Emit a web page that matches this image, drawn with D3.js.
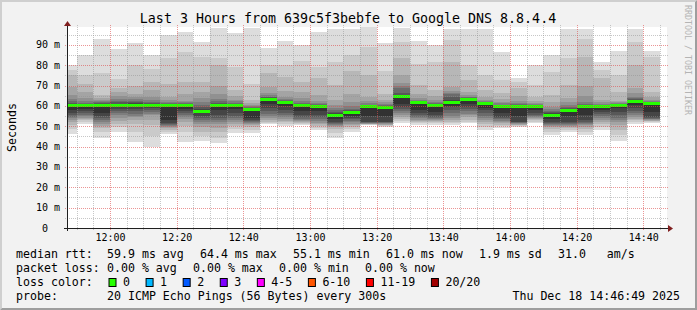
<!DOCTYPE html>
<html>
<head>
<meta charset="utf-8">
<script src="https://cdn.jsdelivr.net/npm/d3@7"></script>
<style>
  body { margin: 0; background: #f2f2f2; }
  svg text { font-family: "DejaVu Sans Mono", monospace; fill: #000; white-space: pre; }
</style>
</head>
<body>
<svg id="chart" width="697" height="310"></svg>
<script>
const TITLE = "Last 3 Hours from 639c5f3bebfe to Google DNS 8.8.4.4";

// start of each 5 minute step
const stepStarts = ["11:45", "11:50", "11:55", "12:00", "12:05", "12:10", "12:15", "12:20", "12:25",
  "12:30", "12:35", "12:40", "12:45", "12:50", "12:55", "13:00", "13:05", "13:10", "13:15",
  "13:20", "13:25", "13:30", "13:35", "13:40", "13:45", "13:50", "13:55", "14:00", "14:05",
  "14:10", "14:15", "14:20", "14:25", "14:30", "14:35", "14:40"];

// median rtt per step (ms)
const medians = [60, 60, 60, 60, 60, 60, 60, 60.3, 57.2, 60.3, 60.3, 58.2, 63.4, 61.8, 60.3, 59.8,
  55.1, 56.6, 59.5, 59.4, 64.4, 61.8, 60.1, 61.8, 63.4, 61.3, 59.8, 59.8, 59.8, 55.5, 57.7,
  59.8, 59.8, 60.3, 62.4, 61.0];

// 20 sorted ping times per step (ms)
const pings = [
  [46, 48.5, 50.6, 52, 53, 54, 54.8, 55.5, 56.5, 58, 60.5, 61, 61.5, 62.3, 63.5, 65.4, 69.5, 75.2, 77.7, 80],
  [51, 52.3, 53, 53.6, 54.3, 55, 55.7, 56.5, 57.5, 58.5, 60.4, 60.7, 61, 61.5, 62.5, 64, 67, 71, 75, 85],
  [44, 47, 49, 50, 51, 52, 53, 54, 55, 56.5, 60.4, 60.8, 61.2, 61.7, 62.3, 63, 64, 65.5, 76, 93],
  [47, 49.5, 51, 52.5, 54, 55.5, 56.5, 57.5, 58.5, 59.3, 60.5, 61, 61.7, 62.5, 63.5, 65, 67, 69, 73, 88],
  [42.5, 47, 51, 53, 54.5, 55.2, 56.2, 57.3, 58.5, 59.3, 60.6, 61.2, 61.8, 62.5, 63.3, 64.5, 66, 70, 80, 91],
  [40, 45, 50.6, 53, 55.5, 56, 57, 58, 59, 59.5, 60.5, 61, 61.4, 62, 62.9, 64.5, 67.8, 72, 78, 85],
  [46, 47, 48, 49, 49.5, 50, 50.5, 51, 51.5, 53, 60.3, 60.6, 61, 61.5, 62, 63, 64.5, 71, 83.5, 95],
  [42.5, 47, 50, 52, 53.5, 54.5, 55.5, 56.5, 57.5, 58.5, 60.5, 60.7, 61, 61.3, 61.8, 62.5, 66, 72, 86.7, 96.5],
  [43, 45, 47.3, 49.5, 51, 52.3, 53, 54, 55, 56.5, 57.8, 58.5, 59.5, 60.5, 62, 64, 67, 72, 84, 91.5],
  [42, 44, 47, 49, 51, 52.3, 53, 54, 55.5, 58, 60.7, 61.1, 61.6, 62.3, 63.5, 66, 70, 80, 83.5, 98.4],
  [46.5, 48.5, 50, 51, 52, 53, 54, 55, 56.5, 58.5, 60.5, 60.8, 61.1, 61.6, 62.2, 63, 65, 68, 79, 96],
  [46.5, 48, 49.5, 50.5, 51, 51.5, 52, 52.5, 53, 54, 58.5, 58.8, 59, 59.3, 59.8, 60.5, 61.5, 63, 71, 98.4],
  [51, 51.5, 52, 53, 54, 55, 56, 57.5, 59, 61, 63.6, 63.9, 64.2, 64.6, 65.3, 66.5, 69.5, 76, 80, 88.4],
  [50.3, 51.3, 52.3, 52.8, 53.5, 54.5, 55.5, 56.5, 58, 60, 62.1, 62.3, 62.5, 62.9, 63.5, 64.5, 67.5, 74, 80.3, 92],
  [50.5, 51.2, 51.8, 52.3, 52.7, 53.2, 53.8, 54.5, 55.5, 57.5, 60.6, 60.8, 61.1, 61.6, 62.5, 64, 67, 72, 82, 90],
  [48, 49.2, 50.3, 51, 51.8, 52.5, 53.5, 54.5, 55.5, 57.5, 60.1, 60.3, 60.6, 61, 61.5, 62.5, 65.5, 73.5, 79, 96.5],
  [44, 46.5, 48.5, 49.5, 50, 50.5, 51, 51.5, 52.3, 53.5, 55.6, 56.3, 57, 58, 59, 60.5, 63, 70.4, 81.7, 98],
  [47.4, 48.5, 49.5, 50.6, 51.3, 52, 52.8, 53.5, 54.2, 55, 56.9, 57.3, 57.8, 58.6, 60, 62, 66, 77, 85, 98],
  [50.5, 50.7, 50.9, 51.1, 51.3, 51.5, 51.7, 52, 52.3, 55, 59.8, 60, 60.3, 60.7, 61.3, 62.3, 64.5, 75, 89, 99],
  [49.8, 50.2, 50.5, 50.8, 51.1, 51.4, 51.7, 52, 52.3, 55, 59.7, 59.9, 60.1, 60.5, 61, 61.8, 63, 66, 77, 91],
  [51.5, 52.5, 53.5, 54.5, 55.5, 56.4, 57.5, 58.5, 59.7, 61, 64.9, 65.4, 66.5, 68.6, 70, 71.5, 75, 83.4, 91.6, 98.5],
  [50.6, 51.5, 52.3, 52.7, 53.3, 54, 54.8, 55.5, 56.4, 58, 61.9, 62, 62.2, 62.5, 63, 64, 66, 70.4, 80.5, 92],
  [50.5, 51.5, 52.3, 52.8, 53.2, 53.7, 54.2, 54.8, 55.5, 57, 60.3, 60.6, 61, 61.5, 62, 63, 65, 68, 81.7, 90],
  [50.6, 51.5, 52.3, 53.2, 54, 55, 56.5, 58, 59.7, 60, 62.2, 63, 64.5, 66, 66.5, 67.5, 69.5, 81.8, 92.4, 98],
  [51.5, 52.3, 53.3, 54.5, 55.5, 56.2, 57.3, 58.5, 59.7, 61, 63.6, 63.8, 64, 64.2, 64.5, 65.5, 67, 72.8, 80, 98],
  [48, 49.5, 51, 52.3, 53, 54, 55, 56.5, 58, 59, 61.5, 61.6, 61.8, 62, 62.4, 63, 64.5, 68, 75, 98],
  [49, 50, 50.8, 51.6, 52.3, 52.8, 53.4, 54, 54.7, 56.5, 60, 60.2, 60.4, 60.7, 61.2, 62, 63.5, 66.2, 72.7, 86.7],
  [49.8, 50.2, 50.5, 50.8, 51.1, 51.4, 51.7, 52, 52.3, 55, 60.1, 60.3, 60.6, 61, 61.5, 62.5, 65, 68.6, 71.9, 73.8],
  [51.5, 52.3, 53, 53.5, 54, 54.5, 55, 55.7, 56.4, 58, 60.1, 60.2, 60.4, 60.6, 60.9, 61.3, 62.5, 64.5, 70.4, 80],
  [45.7, 47, 48.5, 49.8, 50.3, 50.8, 51.3, 51.8, 52.3, 53.5, 56, 56.4, 56.8, 57.5, 58.5, 59.7, 62, 65.4, 76.8, 85],
  [47.4, 48.2, 49, 49.8, 50.3, 50.8, 51.3, 51.8, 52.3, 55, 58.2, 58.5, 58.8, 59.5, 60.5, 62, 64, 70.4, 83.5, 98],
  [45.7, 47, 48.5, 49.8, 50.6, 51.3, 51.8, 52.3, 53, 55.5, 60, 60.2, 60.5, 61, 62, 65, 70, 84, 93, 98],
  [48.2, 49.5, 51, 52.3, 53.2, 54, 55, 56, 57, 58, 60, 60.2, 60.4, 60.7, 61.1, 61.8, 63, 73.5, 77.7, 81.7],
  [43, 45.5, 48, 50.5, 52.3, 53.3, 54.3, 55.5, 57, 58.8, 60.4, 60.6, 60.8, 61, 61.3, 61.8, 62.4, 67, 75, 87],
  [51, 52, 53, 53.8, 54.7, 55.5, 56.5, 57.7, 59, 60.5, 62.6, 62.9, 63.3, 63.8, 64.5, 66.5, 68.6, 80, 91.6, 98],
  [51.8, 52.2, 52.5, 52.8, 53.1, 53.4, 53.8, 54.2, 54.7, 57, 61.1, 61.3, 61.5, 61.8, 62.3, 63, 64.5, 67, 84, 87]
];

const xTickLabels = ["12:00", "12:20", "12:40", "13:00", "13:20", "13:40", "14:00", "14:20", "14:40"];
const yTicks = [0, 10, 20, 30, 40, 50, 60, 70, 80, 90];

const legendRtt = ["59.9 ms avg", "64.4 ms max", "55.1 ms min", "61.0 ms now", "1.9 ms sd", "31.0   am/s"];
const legendLoss = ["0.00 % avg", "0.00 % max", "0.00 % min", "0.00 % now"];
const lossLabels = ["0", "1", "2", "3", "4-5", "6-10", "11-19", "20/20"];
const lossColors = ["#26ff00", "#00b8ff", "#0059ff", "#7e00ff", "#ff00ff", "#ff5500", "#ff0000", "#a10000"];
const probeText = "20 ICMP Echo Pings (56 Bytes) every 300s";
const dateText = "Thu Dec 18 14:46:49 2025";

const COLORS = {
  BACK: "#f2f2f2", CANVAS: "#ffffff", SHADEA: "#cfcfcf", SHADEB: "#9e9e9e",
  GRID: "rgba(143,143,143,0.5)", MGRID: "rgba(222,79,79,0.6)", ARROW: "#801f1f", AXIS: "#1f1f1f"
};

const W = 697, H = 310;
const svg = d3.select("#chart");
const parse = d3.timeParse("%Y-%m-%d %H:%M:%S");
const day = "2025-12-18 ";

const x = d3.scaleTime()
  .domain([parse(day + "11:47:06"), parse(day + "14:47:06")])
  .range([67, 667]);
const y = d3.scaleLinear().domain([0, 98.8]).range([228, 27]);
const [x0, x1] = x.range();
const [yb, yt] = y.range();

// background + 3d border
svg.append("rect").attr("width", W).attr("height", H).attr("fill", COLORS.BACK);
svg.append("path").attr("fill", COLORS.SHADEA)
  .attr("d", `M0,0 L${W},0 L${W - 2},2 L2,2 L2,${H - 2} L0,${H} Z`);
svg.append("path").attr("fill", COLORS.SHADEB)
  .attr("d", `M${W},0 L${W},${H} L0,${H} L2,${H - 2} L${W - 2},${H - 2} L${W - 2},2 Z`);

svg.append("rect").attr("x", x0).attr("y", yt).attr("width", x1 - x0).attr("height", yb - yt)
  .attr("fill", COLORS.CANVAS);

svg.append("clipPath").attr("id", "plotclip")
  .append("rect").attr("x", x0).attr("y", yt).attr("width", x1 - x0).attr("height", yb - yt);

const plot = svg.append("g").attr("clip-path", "url(#plotclip)");

const steps = stepStarts.map((s, i) => {
  const t0 = parse(day + s + ":00");
  return { t0, t1: d3.timeMinute.offset(t0, 5), p: pings[i], median: medians[i] };
});

// smoke: layer ii spans ping ii .. ping (21-ii), darker towards the middle
const half = 10;
for (let ii = 1; ii <= half; ii++) {
  const g = Math.floor(190 / half * (half - ii)) + 50;
  const col = d3.rgb(g, g, g).formatHex();
  plot.append("g")
    .selectAll("rect")
    .data(steps)
    .enter()
    .append("rect")
    .attr("shape-rendering", "crispEdges")
    .attr("x", d => Math.round(x(d.t0)))
    .attr("width", d => Math.round(x(d.t1)) - Math.round(x(d.t0)))
    .attr("y", d => Math.round(y(d.p[20 - ii])))
    .attr("height", d => Math.round(y(d.p[ii - 1])) - Math.round(y(d.p[20 - ii])))
    .attr("fill", col);
}

// median bars
plot.append("g")
  .selectAll("rect")
  .data(steps)
  .enter()
  .append("rect")
  .attr("shape-rendering", "crispEdges")
  .attr("x", d => Math.round(x(d.t0)))
  .attr("width", d => Math.round(x(d.t1)) - Math.round(x(d.t0)))
  .attr("y", d => Math.round(y(d.median) - 1.5))
  .attr("height", 3)
  .attr("fill", lossColors[0]);

// grid on top
const grid = svg.append("g").attr("stroke-width", 1).attr("stroke-dasharray", "1,1");
const minorY = d3.range(5, 99, 5).filter(v => v % 10 !== 0);
const majorY = yTicks.filter(v => v > 0);
grid.selectAll(".gy").data(minorY).enter().append("line")
  .attr("x1", x0 - 2).attr("x2", x1 + 2)
  .attr("y1", d => Math.round(y(d)) + 0.5).attr("y2", d => Math.round(y(d)) + 0.5)
  .attr("stroke", COLORS.GRID);
grid.selectAll(".my").data(majorY).enter().append("line")
  .attr("x1", x0 - 2).attr("x2", x1 + 2)
  .attr("y1", d => Math.round(y(d)) + 0.5).attr("y2", d => Math.round(y(d)) + 0.5)
  .attr("stroke", COLORS.MGRID);

const majorT = xTickLabels.map(s => parse(day + s + ":00"));
const minorT = d3.timeMinute.every(5).range(x.domain()[0], x.domain()[1])
  .filter(t => t.getMinutes() % 20 !== 0);
grid.selectAll(".gx").data(minorT).enter().append("line")
  .attr("x1", d => Math.round(x(d)) + 0.5).attr("x2", d => Math.round(x(d)) + 0.5)
  .attr("y1", yt - 2).attr("y2", yb + 2)
  .attr("stroke", COLORS.GRID);
grid.selectAll(".mx").data(majorT).enter().append("line")
  .attr("x1", d => Math.round(x(d)) + 0.5).attr("x2", d => Math.round(x(d)) + 0.5)
  .attr("y1", yt - 2).attr("y2", yb + 2)
  .attr("stroke", COLORS.MGRID);

// axes with arrows
svg.append("line").attr("x1", x0 - 3).attr("x2", x1 + 3).attr("y1", yb + 0.5).attr("y2", yb + 0.5)
  .attr("stroke", COLORS.AXIS);
svg.append("line").attr("x1", x0 + 0.5).attr("x2", x0 + 0.5).attr("y1", yb + 3).attr("y2", yt - 3)
  .attr("stroke", COLORS.AXIS);
svg.append("path").attr("fill", COLORS.ARROW)
  .attr("d", `M${x1 + 1},${yb - 3} L${x1 + 6},${yb + 0.5} L${x1 + 1},${yb + 4} Z`);
svg.append("path").attr("fill", COLORS.ARROW)
  .attr("d", `M${x0 - 3},${yt - 1} L${x0 + 0.5},${yt - 6} L${x0 + 4},${yt - 1} Z`);

// tick labels
svg.append("g").selectAll("text").data(yTicks).enter().append("text")
  .attr("x", d => d === 0 ? 48 : 60)
  .attr("y", d => y(d) + 3.5)
  .attr("text-anchor", "end")
  .attr("font-size", 10)
  .text(d => d === 0 ? "0" : d + " m");

svg.append("g").selectAll("text").data(majorT).enter().append("text")
  .attr("x", d => x(d) + 0.5)
  .attr("y", 241)
  .attr("text-anchor", "middle")
  .attr("font-size", 10)
  .text((d, i) => xTickLabels[i]);

// title, axis label, watermark
svg.append("text").attr("x", 348).attr("y", 23).attr("text-anchor", "middle")
  .attr("font-size", 13.3).text(TITLE);
svg.append("text").attr("transform", `translate(15.5,${(yt + yb) / 2}) rotate(-90)`)
  .attr("text-anchor", "middle").attr("font-size", 11.6).text("Seconds");
svg.append("text").attr("transform", "translate(685,5) rotate(90)")
  .attr("font-size", 8.3).style("fill", "#b4b4b4").text("RRDTOOL / TOBI OETIKER");

// legend
const LEG = { FS: 11.6, X: 16, COL: 107, GAP: 16.2, ROWS: [258, 272, 286, 300] };
const leg = svg.append("g").attr("font-size", LEG.FS);
function row(label, items, yy) {
  leg.append("text").attr("x", LEG.X).attr("y", yy).text(label);
  let xx = LEG.COL;
  items.forEach(s => {
    const t = leg.append("text").attr("x", xx).attr("y", yy).text(s);
    xx += t.node().getComputedTextLength() + LEG.GAP;
  });
}
row("median rtt:", legendRtt, LEG.ROWS[0]);
row("packet loss:", legendLoss, LEG.ROWS[1]);

leg.append("text").attr("x", LEG.X).attr("y", LEG.ROWS[2]).text("loss color:");
let bx = 108.5;
lossLabels.forEach((s, i) => {
  leg.append("rect").attr("x", bx + 0.5).attr("y", LEG.ROWS[2] - 7.5).attr("width", 7).attr("height", 8)
    .attr("fill", lossColors[i]).attr("stroke", "#000").attr("stroke-width", 1);
  const t = leg.append("text").attr("x", bx + 14.5).attr("y", LEG.ROWS[2]).text(s);
  bx += 14.5 + t.node().getComputedTextLength() + 15.6;
});

leg.append("text").attr("x", LEG.X).attr("y", LEG.ROWS[3]).text("probe:");
leg.append("text").attr("x", LEG.COL).attr("y", LEG.ROWS[3]).text(probeText);
leg.append("text").attr("x", 680).attr("y", LEG.ROWS[3]).attr("text-anchor", "end").text(dateText);
</script>
</body>
</html>
